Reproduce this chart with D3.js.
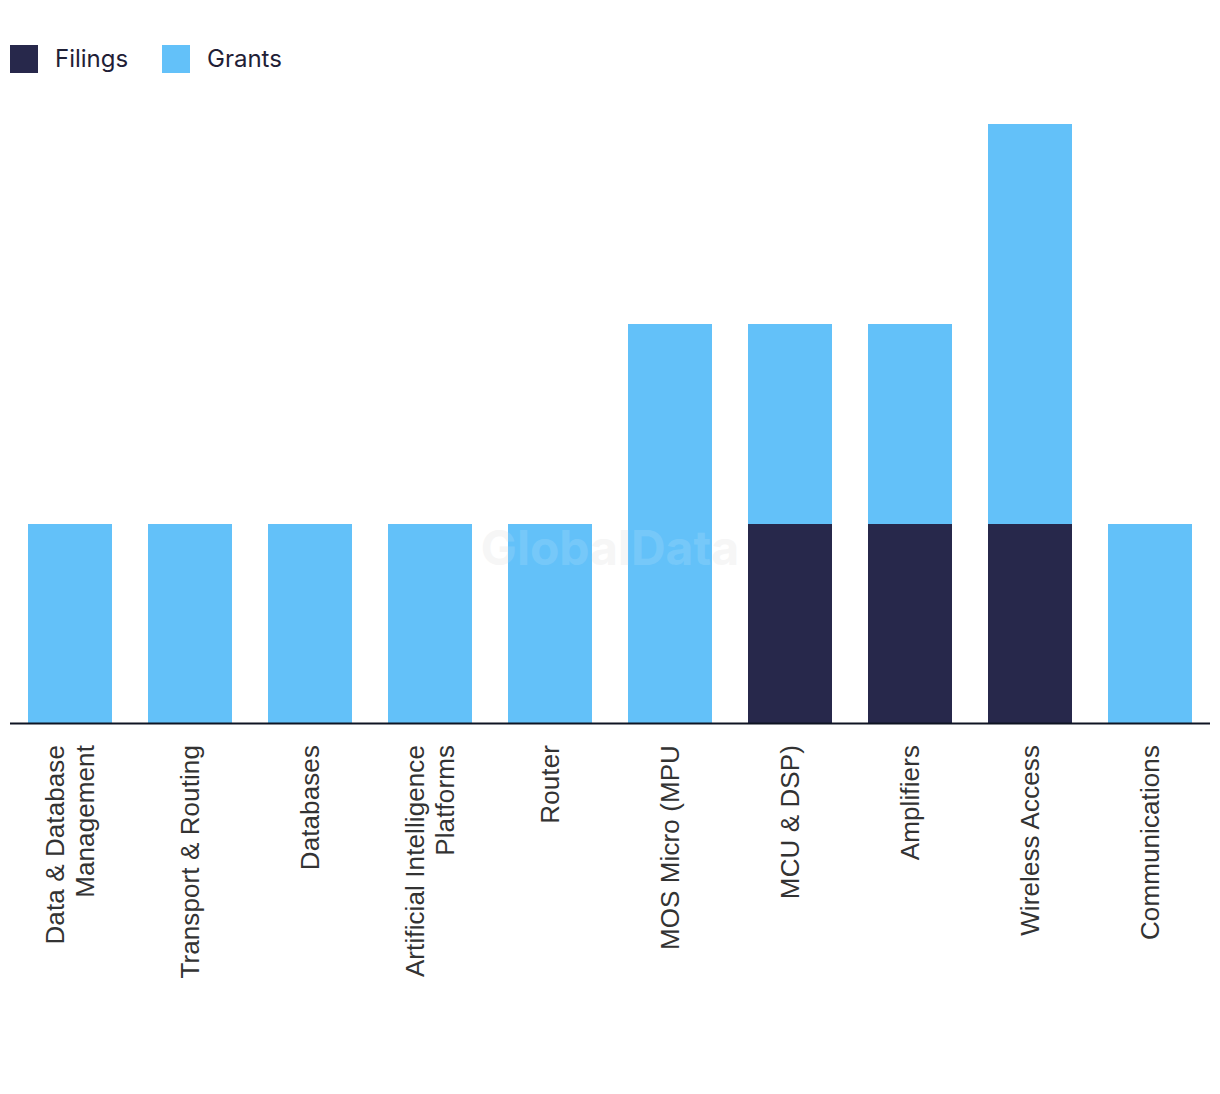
<!DOCTYPE html>
<html><head><meta charset="utf-8">
<script src="https://cdn.jsdelivr.net/npm/d3@7"></script>
<style>body{margin:0;background:#fff}svg{display:block}</style>
</head><body>
<script>
const categories = [["Data & Database","Management"],["Transport & Routing"],["Databases"],["Artificial Intelligence","Platforms"],["Router"],["MOS Micro (MPU"],["MCU & DSP)"],["Amplifiers"],["Wireless Access"],["Communications"]];
const filings = [0,0,0,0,0,0,1,1,1,0];
const grants  = [1,1,1,1,1,2,1,1,2,1];
const seriesNames = ["Filings","Grants"];
const colors = ["#27284b","#63c1f9"];

const W=1220,H=1094;
const svg=d3.select("body").append("svg").attr("width",W).attr("height",H);
const keys=categories.map(c=>c.join(" "));
const x=d3.scaleBand().domain(keys).range([10,1210]).paddingInner(0.3).paddingOuter(0.15);
const y=d3.scaleLinear().domain([0,3]).range([724,124]);

const rows=keys.map((k,i)=>({key:k,Filings:filings[i],Grants:grants[i]}));
const stack=d3.stack().keys(seriesNames)(rows);

svg.append("text").attr("x",610).attr("y",565).attr("text-anchor","middle")
  .attr("font-family","Inter, 'Open Sans', sans-serif").attr("font-weight",700).attr("font-size",48)
  .attr("fill","#e0e0e0").attr("opacity",0.3).text("GlobalData");

svg.append("g").selectAll("g").data(stack).join("g").attr("fill",(d,i)=>colors[i])
  .selectAll("rect").data(d=>d.filter(s=>s[1]>s[0])).join("rect")
  .attr("x",d=>x(d.data.key)).attr("width",x.bandwidth())
  .attr("y",d=>y(d[1])).attr("height",d=>y(d[0])-y(d[1]));

svg.append("text").attr("x",610).attr("y",565).attr("text-anchor","middle")
  .attr("font-family","Inter, 'Open Sans', sans-serif").attr("font-weight",700).attr("font-size",48)
  .attr("fill","#ffffff").attr("opacity",0.12).text("GlobalData");

const ax=svg.append("g").attr("transform","translate(0,723.5)")
  .call(d3.axisBottom(x).tickSize(0).tickFormat(""));
ax.select(".domain").attr("stroke","#0f1423").attr("stroke-width",2).attr("d","M10,0H1210");

const lab=svg.append("g").selectAll("text").data(categories).join("text")
  .attr("font-family","'Liberation Sans', Arial, sans-serif").attr("font-size",26).attr("fill","#333")
  .attr("letter-spacing","0.1px")
  .attr("text-anchor","end")
  .attr("transform",(d,i)=>`translate(${x(keys[i])+x.bandwidth()/2},745) rotate(-90)`);
lab.each(function(d){
  const t=d3.select(this);
  const n=d.length;
  d.forEach((line,j)=>{
    t.append("tspan").attr("x",0).attr("y",(j-(n-1)/2)*30).attr("dy","0.35em").text(line);
  });
});

const lg=svg.append("g").attr("font-family","Inter, 'Open Sans', sans-serif").attr("font-size",24).attr("fill","#1f2036");
const lx=[10,162];
seriesNames.forEach((s,i)=>{
  lg.append("rect").attr("x",lx[i]).attr("y",45).attr("width",28).attr("height",28).attr("fill",colors[i]);
  lg.append("text").attr("x",lx[i]+45).attr("y",59).attr("dy","0.35em").text(s);
});
</script>
</body></html>
